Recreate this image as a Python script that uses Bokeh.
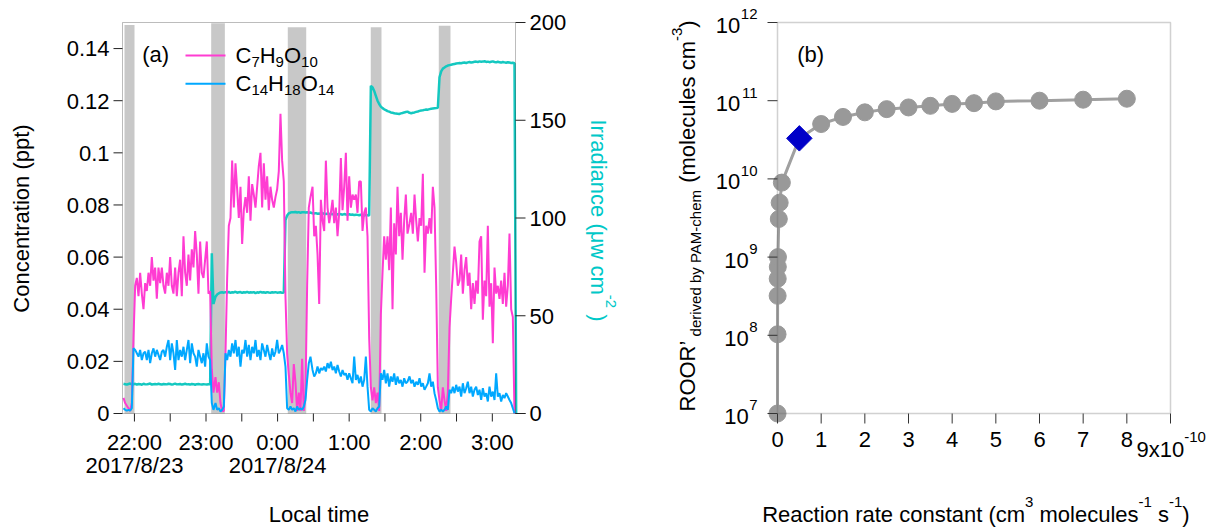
import math
import numpy as np
import pandas as pd
from bokeh.plotting import figure
from bokeh.models import Range1d, Label, BoxAnnotation, ColumnDataSource
from bokeh.layouts import row
from bokeh.embed import file_html
from bokeh.resources import INLINE

FONT = "Liberation Sans"
PINK = "#FF3CD2"
BLUE = "#00A8FF"
CYAN = "#14C8C0"
IRR_TXT = "#00C8C8"
BAND = "#C8C8C8"

# ---------------- panel (a) data ----------------
# four recorded segments, 83.8 s between samples
SEG_START = ["2017-08-23 21:50:50", "2017-08-23 23:07:57", "2017-08-24 00:29:18", "2017-08-24 01:50:36"]
STEP_MS = 83800

c7_seg1 = [0.006, 0.004, 0.003, 0.002, 0.001, 0.004, 0.029, 0.049, 0.052, 0.045, 0.054, 0.046, 0.040, 0.050,
           0.047, 0.054, 0.049, 0.060, 0.051, 0.056, 0.044, 0.056, 0.050, 0.056, 0.049, 0.046, 0.054, 0.049,
           0.060, 0.049, 0.046, 0.056, 0.045, 0.054, 0.059, 0.045, 0.068, 0.054, 0.049, 0.061, 0.051, 0.063,
           0.056, 0.070, 0.061, 0.046, 0.066, 0.054, 0.052, 0.059, 0.066, 0.046, 0.047, 0.017, 0.008]
c7_seg2 = [0.014, 0.008, 0.012, 0.004, 0.001, 0.001, 0.023, 0.052, 0.072, 0.075, 0.097, 0.079, 0.096, 0.086,
           0.075, 0.087, 0.065, 0.078, 0.083, 0.077, 0.091, 0.074, 0.088, 0.084, 0.079, 0.087, 0.095, 0.100,
           0.079, 0.096, 0.082, 0.091, 0.078, 0.087, 0.082, 0.079, 0.083, 0.086, 0.093, 0.115, 0.097, 0.089,
           0.045, 0.023, 0.015, 0.008, 0.004, 0.019, 0.012, 0.001, 0.008, 0.001, 0.021, 0.001, 0.007, 0.049,
           0.079, 0.083]
c7_seg3 = [0.087, 0.068, 0.072, 0.061, 0.042, 0.082, 0.074, 0.070, 0.097, 0.079, 0.073, 0.077, 0.082, 0.073,
           0.079, 0.068, 0.077, 0.098, 0.078, 0.087, 0.100, 0.074, 0.091, 0.079, 0.084, 0.082, 0.084, 0.077,
           0.089, 0.089, 0.070, 0.077, 0.079, 0.068, 0.029, 0.010, 0.005, 0.010, 0.004, 0.008, 0.001, 0.038,
           0.054, 0.068, 0.059, 0.068, 0.055, 0.079, 0.040, 0.073, 0.061, 0.087, 0.068, 0.077, 0.059, 0.074,
           0.084, 0.069]
c7_seg4 = [0.073, 0.077, 0.069, 0.084, 0.074, 0.066, 0.075, 0.072, 0.092, 0.054, 0.072, 0.069, 0.075, 0.069,
           0.087, 0.079, 0.049, 0.010, 0.005, 0.001, 0.010, 0.005, 0.001, 0.008, 0.033, 0.044, 0.054, 0.064,
           0.058, 0.049, 0.051, 0.061, 0.046, 0.055, 0.060, 0.049, 0.054, 0.040, 0.050, 0.042, 0.051, 0.046,
           0.066, 0.068, 0.036, 0.051, 0.045, 0.072, 0.041, 0.050, 0.027, 0.056, 0.046, 0.049, 0.044, 0.051,
           0.042, 0.054, 0.041, 0.049, 0.069, 0.040, 0.037, 0.000]

c14_seg1 = [0.0020, 0.0014, 0.0011, 0.0014, 0.0011, 0.0020, 0.0250, 0.0244, 0.0231, 0.0218, 0.0244, 0.0205,
            0.0231, 0.0237, 0.0205, 0.0244, 0.0193, 0.0231, 0.0250, 0.0218, 0.0244, 0.0225, 0.0205, 0.0237,
            0.0244, 0.0218, 0.0256, 0.0282, 0.0205, 0.0269, 0.0231, 0.0167, 0.0282, 0.0205, 0.0244, 0.0218,
            0.0256, 0.0205, 0.0244, 0.0282, 0.0193, 0.0269, 0.0231, 0.0218, 0.0180, 0.0244, 0.0218, 0.0193,
            0.0231, 0.0180, 0.0269, 0.0218, 0.0205, 0.0040, 0.0014]
c14_seg2 = [0.0040, 0.0014, 0.0020, 0.0008, 0.0014, 0.0027, 0.0231, 0.0205, 0.0244, 0.0218, 0.0269, 0.0231,
            0.0282, 0.0218, 0.0256, 0.0180, 0.0244, 0.0231, 0.0282, 0.0218, 0.0263, 0.0205, 0.0256, 0.0231,
            0.0282, 0.0218, 0.0244, 0.0205, 0.0269, 0.0244, 0.0218, 0.0263, 0.0231, 0.0205, 0.0250, 0.0218,
            0.0237, 0.0282, 0.0231, 0.0244, 0.0263, 0.0231, 0.0180, 0.0020, 0.0014, 0.0027, 0.0014, 0.0020,
            0.0008, 0.0027, 0.0014, 0.0020, 0.0014, 0.0027, 0.0052, 0.0129, 0.0193, 0.0218]
c14_seg3 = [0.0167, 0.0142, 0.0154, 0.0180, 0.0154, 0.0174, 0.0167, 0.0180, 0.0161, 0.0193, 0.0174, 0.0199,
            0.0167, 0.0180, 0.0154, 0.0186, 0.0161, 0.0142, 0.0167, 0.0148, 0.0154, 0.0129, 0.0154, 0.0135,
            0.0116, 0.0218, 0.0129, 0.0148, 0.0116, 0.0142, 0.0103, 0.0129, 0.0218, 0.0103, 0.0014, 0.0008,
            0.0020, 0.0014, 0.0008, 0.0020, 0.0027, 0.0154, 0.0129, 0.0167, 0.0116, 0.0154, 0.0103, 0.0142,
            0.0122, 0.0154, 0.0110, 0.0142, 0.0116, 0.0129, 0.0103, 0.0135, 0.0116, 0.0122]
c14_seg4 = [0.0142, 0.0116, 0.0129, 0.0103, 0.0122, 0.0110, 0.0135, 0.0103, 0.0116, 0.0091, 0.0103, 0.0116,
            0.0154, 0.0103, 0.0122, 0.0078, 0.0052, 0.0020, 0.0008, 0.0014, 0.0008, 0.0014, 0.0027, 0.0014,
            0.0091, 0.0078, 0.0103, 0.0078, 0.0110, 0.0084, 0.0103, 0.0065, 0.0116, 0.0078, 0.0097, 0.0122,
            0.0078, 0.0103, 0.0065, 0.0091, 0.0103, 0.0071, 0.0091, 0.0052, 0.0097, 0.0065, 0.0078, 0.0046,
            0.0103, 0.0065, 0.0084, 0.0052, 0.0154, 0.0065, 0.0078, 0.0046, 0.0071, 0.0059, 0.0078, 0.0065,
            0.0052, 0.0040, 0.0020, 0.0001]

irr_seg1 = [15.2, 15.0, 14.8, 15.1, 15.3, 14.9, 15.0, 15.2, 14.8, 15.1, 15.0, 14.7, 15.2, 15.0, 14.9, 15.1,
            15.3, 14.8, 15.0, 15.1, 14.9, 15.2, 15.0, 14.8, 15.1, 15.0, 14.9, 15.2, 15.1, 14.8, 15.0, 15.3,
            14.9, 15.0, 15.1, 14.8, 15.0, 15.2, 14.9, 15.0, 14.8, 15.1, 15.0, 14.7, 15.0, 15.1, 14.9, 14.8,
            15.0, 14.9, 14.8, 15.0, 14.9, 82.0, 56.0]
irr_seg2 = [59.7, 60.9, 61.5, 61.9, 62.0, 61.8, 62.1, 61.9, 62.2, 61.7, 62.0, 61.9, 62.3, 61.8, 62.0, 62.1,
            61.7, 62.0, 61.9, 62.2, 61.8, 62.0, 61.9, 62.1, 61.6, 62.0, 61.8, 62.2, 61.9, 62.0, 61.7, 62.1,
            61.9, 61.8, 62.0, 61.9, 62.1, 61.8, 61.9, 62.0, 61.7, 61.9, 99.0, 101.3, 102.4, 102.8, 103.0,
            102.9, 103.1, 102.8, 103.0, 102.7, 102.9, 103.0, 102.8, 102.9, 102.7, 102.8]
irr_seg3 = [102.4, 102.3, 102.5, 102.2, 102.3, 102.1, 102.4, 102.2, 102.0, 102.3, 102.1, 102.2, 101.9, 102.1,
            102.0, 101.8, 102.1, 101.9, 101.7, 102.0, 101.8, 101.6, 101.9, 101.7, 101.8, 101.5, 101.7, 101.6,
            101.4, 101.7, 101.5, 101.3, 101.6, 101.4, 101.3, 167.6, 166.8, 165.0, 162.5, 160.0, 158.3, 157.0,
            156.2, 155.6, 155.2, 154.7, 154.4, 154.0, 153.8, 153.6, 153.4, 153.3, 153.2, 153.5, 153.7, 154.0,
            154.2, 154.4]
irr_seg4 = [153.8, 153.6, 153.8, 154.0, 154.3, 154.5, 154.8, 155.0, 155.1, 155.3, 155.5, 155.4, 155.7, 155.9,
            156.0, 156.1, 156.2, 156.4, 172.0, 175.0, 176.4, 177.0, 177.6, 178.0, 178.2, 178.4, 178.6, 178.8,
            179.0, 179.1, 179.3, 179.2, 179.4, 179.5, 179.3, 179.6, 179.8, 179.5, 179.7, 179.9, 180.0, 179.8,
            180.1, 179.9, 180.0, 180.2, 179.8, 180.0, 179.7, 179.9, 180.1, 179.8, 179.6, 179.9, 179.7, 179.5,
            179.8, 179.6, 179.4, 179.7, 179.5, 179.3, 179.4, 179.2, 0.0]

BAND_START = ["2017-08-23 21:51:40", "2017-08-23 23:04:21", "2017-08-24 00:08:33", "2017-08-24 01:18:06", "2017-08-24 02:15:08"]
BAND_END = ["2017-08-23 22:00:04", "2017-08-23 23:15:48", "2017-08-24 00:24:00", "2017-08-24 01:27:06", "2017-08-24 02:24:56"]
BAND_TOP = [0.1490, 0.1497, 0.1482, 0.1482, 0.1488]

TIME_START, TIME_END = "2017-08-23 21:50:00", "2017-08-24 03:19:26"
TIME_TICKS = ["2017-08-23 22:00", "2017-08-23 22:30", "2017-08-23 23:00", "2017-08-23 23:30", "2017-08-24 00:00",
              "2017-08-24 00:30", "2017-08-24 01:00", "2017-08-24 01:30", "2017-08-24 02:00", "2017-08-24 02:30",
              "2017-08-24 03:00"]
TIME_TICK_LABELS = ["22:00", "", "23:00", "", "0:00", "", "1:00", "", "2:00", "", "3:00"]
DATE_AT = ["2017-08-23 22:00", "2017-08-24 00:00"]
DATE_LABELS = ["2017/8/23", "2017/8/24"]
CONC_MAX = 0.15
CONC_TICKS = [0, 0.02, 0.04, 0.06, 0.08, 0.1, 0.12, 0.14]
CONC_TICK_LABELS = ["0", "0.02", "0.04", "0.06", "0.08", "0.1", "0.12", "0.14"]
IRR_MAX = 200
IRR_TICKS = [0, 50, 100, 150, 200]
IRR_TICK_LABELS = ["0", "50", "100", "150", "200"]

# ---------------- panel (b) data ----------------
K_RATE = [1e-14, 1e-13, 3e-13, 5e-13, 7e-13, 1e-12, 3e-12, 5e-12, 1e-11, 1e-10, 1.5e-10, 2e-10, 2.5e-10,
          3e-10, 3.5e-10, 4e-10, 4.5e-10, 5e-10, 6e-10, 7e-10, 8e-10]
ROOR = [1.0e7, 1.03e8, 3.2e8, 5.3e8, 7.5e8, 1.0e9, 3.07e9, 4.97e9, 8.97e9, 5.03e10, 6.2e10, 7.1e10, 7.8e10,
        8.2e10, 8.6e10, 9.1e10, 9.3e10, 9.8e10, 1.0e11, 1.03e11, 1.06e11]
K_SEL = [5e-11]
ROOR_SEL = [3.3e10]
K_MAX = 9e-10
K_TICKS = [0, 1e-10, 2e-10, 3e-10, 4e-10, 5e-10, 6e-10, 7e-10, 8e-10]
K_TICK_LABELS = ["0", "1", "2", "3", "4", "5", "6", "7", "8"]
ROOR_EXP = [7, 8, 9, 10, 11, 12]

# ---------------- layout (pixels) ----------------
H = 528
W1, W2 = 650, 558
BOX1 = (122, 515, 22, 413)   # left, right, top, bottom of panel (a) plotting box on its canvas
BOX2 = (127, 520, 22, 413)   # same for panel (b) on its canvas
BASE_FIX = 0.345             # label anchor correction (em) so the anchor sits on the baseline


def ms(ts):
    return pd.Timestamp(ts).value / 1e6


def seg_times(start, n):
    t = pd.date_range(pd.Timestamp(start), periods=n, freq=pd.Timedelta(milliseconds=STEP_MS))
    return t.values.astype("datetime64[ms]").astype("int64").astype(float)


def series(segs):
    xs, ys = [], []
    for st, vals in zip(SEG_START, segs):
        xs.extend(seg_times(st, len(vals)))
        ys.extend(vals)
    return xs, ys


def xext(lo, hi, box, width):
    k = (hi - lo) / (box[1] - box[0])
    return Range1d(lo - box[0] * k, hi + (width - box[1]) * k)


def yext(lo, hi, box, height):
    k = (hi - lo) / (box[3] - box[2])
    return lo - (height - box[3]) * k, hi + box[2] * k


# ---------- text helpers ----------
CW = {' ': .278, '(': .333, ')': .333, '-': .333, '/': .278, '.': .278, ':': .278, '\u2019': .222,
      'A': .667, 'C': .722, 'H': .722, 'I': .278, 'M': .833, 'O': .778, 'P': .667, 'R': .722,
      'a': .556, 'b': .556, 'c': .5, 'd': .556, 'e': .556, 'h': .556, 'i': .222, 'l': .222, 'm': .833,
      'n': .556, 'o': .556, 'r': .333, 's': .5, 't': .278, 'u': .556, 'v': .5, 'w': .722, 'x': .5, 'y': .5,
      '\u03bc': .576}


def tw(s, size):
    return sum(CW.get(c, 0.556) for c in s) * size


def lab(p, text, x, y, size=22, color="black", angle=0.0, align="left",
        xu="screen", yu="screen", xo=0, yo=0, yr="default"):
    m = BASE_FIX * size
    xo2 = xo - m * math.sin(angle)
    yo2 = yo + m * math.cos(angle)
    p.add_layout(Label(x=x, y=y, x_units=xu, y_units=yu, text=text, text_font=FONT,
                       text_font_size=f"{size}px", text_color=color, angle=angle,
                       text_align=align, text_baseline="alphabetic", x_offset=xo2, y_offset=yo2,
                       y_range_name=yr))


def put(p, text, X, Y, size=22, color="black", angle=0.0, align="left"):
    # X, Y: canvas pixels from top-left (Y = baseline)
    lab(p, text, X, H - Y, size, color, angle, align)


def compose(p, pieces, X0, Y0, angle=0.0, color="black"):
    x, y = X0, H - Y0
    for text, size, shift in pieces:
        lead = len(text) - len(text.lstrip(' '))
        adv = tw(' ', size) * lead
        if angle == 0:
            x += adv
        elif angle > 0:
            y += adv
        else:
            y -= adv
        body = text.lstrip(' ')
        if angle == 0:
            px, py = x, y + shift
        elif angle > 0:
            px, py = x - shift, y
        else:
            px, py = x + shift, y
        lab(p, body, px, py, size, color, angle)
        w = tw(body, size)
        if angle == 0:
            x += w
        elif angle > 0:
            y += w
        else:
            y -= w


def bare_figure(width, x_range, y_range, **kw):
    p = figure(width=width, height=H, x_range=x_range, y_range=y_range, min_border=0,
               min_border_left=0, min_border_right=0, min_border_top=0, min_border_bottom=0,
               x_axis_location=None, y_axis_location=None, output_backend="svg",
               toolbar_location=None, **kw)
    p.xgrid.visible = False
    p.ygrid.visible = False
    p.outline_line_color = None
    p.background_fill_color = "white"
    p.border_fill_color = "white"
    return p


# ---------------- panel (a) ----------------
t0, t1 = ms(TIME_START), ms(TIME_END)
ylo, yhi = yext(0, CONC_MAX, BOX1, H)
p1 = bare_figure(W1, xext(t0, t1, BOX1, W1), Range1d(ylo, yhi))
ilo, ihi = yext(0, IRR_MAX, BOX1, H)
p1.extra_y_ranges = {"irr": Range1d(ilo, ihi)}

band_src = ColumnDataSource(dict(left=[ms(t) for t in BAND_START], right=[ms(t) for t in BAND_END],
                                 top=BAND_TOP, bottom=[0] * len(BAND_TOP)))
p1.quad(left="left", right="right", top="top", bottom="bottom", source=band_src,
        fill_color=BAND, line_color=None)

tx, ty = series([irr_seg1, irr_seg2, irr_seg3, irr_seg4])
p1.line(tx, ty, line_color=CYAN, line_width=2.5, y_range_name="irr")
tx, ty = series([c7_seg1, c7_seg2, c7_seg3, c7_seg4])
p1.line(tx, ty, line_color=PINK, line_width=2)
tx, ty = series([c14_seg1, c14_seg2, c14_seg3, c14_seg4])
p1.line(tx, ty, line_color=BLUE, line_width=2)

# frame and axes
p1.add_layout(BoxAnnotation(left=t0, right=t1, bottom=0, top=CONC_MAX, fill_color=None,
                            line_color="#222222", line_width=1))
tick_ms = [ms(t) for t in TIME_TICKS]
p1.ray(x=tick_ms, y=[0] * len(tick_ms), length=8, length_units="screen", angle=-math.pi / 2,
       line_color="#222222", line_width=1)
p1.ray(x=[t1], y=[0], length=10, length_units="screen", angle=0, line_color="#222222", line_width=1)
p1.ray(x=[t0] * len(CONC_TICKS), y=CONC_TICKS, length=9, length_units="screen", angle=math.pi,
       line_color="#222222", line_width=1)
p1.ray(x=[t1] * len(IRR_TICKS), y=IRR_TICKS, length=10, length_units="screen", angle=0,
       line_color="#222222", line_width=1, y_range_name="irr")
for t, s in zip(tick_ms, TIME_TICK_LABELS):
    if s:
        lab(p1, s, t, 0, align="center", xu="data", yu="data", yo=-37)
for t, s in zip(DATE_AT, DATE_LABELS):
    lab(p1, s, ms(t), 0, align="center", xu="data", yu="data", yo=-60)
for v, s in zip(CONC_TICKS, CONC_TICK_LABELS):
    lab(p1, s, t0, v, align="right", xu="data", yu="data", xo=-13, yo=-7.9)
for v, s in zip(IRR_TICKS, IRR_TICK_LABELS):
    lab(p1, s, t1, v, align="left", xu="data", yu="data", xo=14, yo=-7.9, yr="irr")

put(p1, "Local time", 318.5, 522, align="center")
put(p1, "Concentration (ppt)", 29, 218, angle=math.pi / 2, align="center")
compose(p1, [("Irradiance (\u03bcw cm", 22, 0), ("-2", 15, 15), (" )", 22, 0)], 590, 119,
        angle=-math.pi / 2, color=IRR_TXT)
put(p1, "(a)", 141.7, 61.3)
for (ytop, col) in [(54, PINK), (82.3, BLUE)]:
    p1.add_layout(BoxAnnotation(left=185, right=225, top=H - ytop, bottom=H - ytop - 2,
                                left_units="screen", right_units="screen", bottom_units="screen",
                                top_units="screen", fill_color=col, fill_alpha=1.0, line_color=None))
compose(p1, [("C", 22, 0), ("7", 15, -4), ("H", 22, 0), ("9", 15, -4), ("O", 22, 0), ("10", 15, -4)], 235, 62.7)
compose(p1, [("C", 22, 0), ("14", 15, -4), ("H", 22, 0), ("18", 15, -4), ("O", 22, 0), ("14", 15, -4)], 235, 90.7)

# ---------------- panel (b) ----------------
lylo, lyhi = yext(ROOR_EXP[0], ROOR_EXP[-1], BOX2, H)
p2 = bare_figure(W2, xext(0, K_MAX, BOX2, W2), Range1d(10 ** lylo, 10 ** lyhi), y_axis_type="log")

order = np.argsort(np.array(K_RATE + K_SEL))
kl = np.array(K_RATE + K_SEL)[order]
rl = np.array(ROOR + ROOR_SEL)[order]
p2.line(kl, rl, line_color="#A0A0A0", line_width=3)
p2.scatter(K_RATE, ROOR, marker="circle", size=17, fill_color="#999999", line_color="#999999")
p2.scatter(K_SEL, ROOR_SEL, marker="square", angle=math.pi / 4, size=18, fill_color="#0000C8",
           line_color="#0000C8")

yb, yt = 10.0 ** ROOR_EXP[0], 10.0 ** ROOR_EXP[-1]
p2.add_layout(BoxAnnotation(left=0, right=K_MAX, bottom=yb, top=yt, fill_color=None,
                            line_color="#666666", line_width=1.5))
p2.ray(x=K_TICKS + [K_MAX], y=[yb] * (len(K_TICKS) + 1), length=10, length_units="screen",
       angle=-math.pi / 2, line_color="#333333", line_width=1)
ydec = [10.0 ** e for e in ROOR_EXP]
p2.ray(x=[0] * len(ydec), y=ydec, length=10, length_units="screen", angle=math.pi,
       line_color="#333333", line_width=1)
for k, s in zip(K_TICKS, K_TICK_LABELS):
    lab(p2, s, k, yb, align="center", xu="data", yu="data", yo=-33.7)
for e in ROOR_EXP:
    s = str(e)
    lab(p2, s, 0, 10.0 ** e, size=15, align="right", xu="data", yu="data", xo=-20, yo=3)
    lab(p2, "10", 0, 10.0 ** e, size=22, align="right", xu="data", yu="data",
        xo=-20 - tw(s, 15) - 0.5, yo=-10.5)

compose(p2, [("9x10", 22, 0), ("-10", 15, 15)], 486, 457)
put(p2, "(b)", 146.7, 61.3)
compose(p2, [("ROOR\u2019", 22, 0), (" derived by PAM-chem", 15, -5), (" (molecules cm", 22, 0),
             ("-3", 15, 13), (")", 22, 0)], 45, 411, angle=math.pi / 2)
compose(p2, [("Reaction rate constant (cm", 22, 0), ("3", 15, 15), (" molecules", 22, 0), ("-1", 15, 15),
             (" s", 22, 0), ("-1", 15, 15), (")", 22, 0)], 111.7, 522)

layout = row(p1, p2)
open("out.html", "w").write(file_html(layout, INLINE))
